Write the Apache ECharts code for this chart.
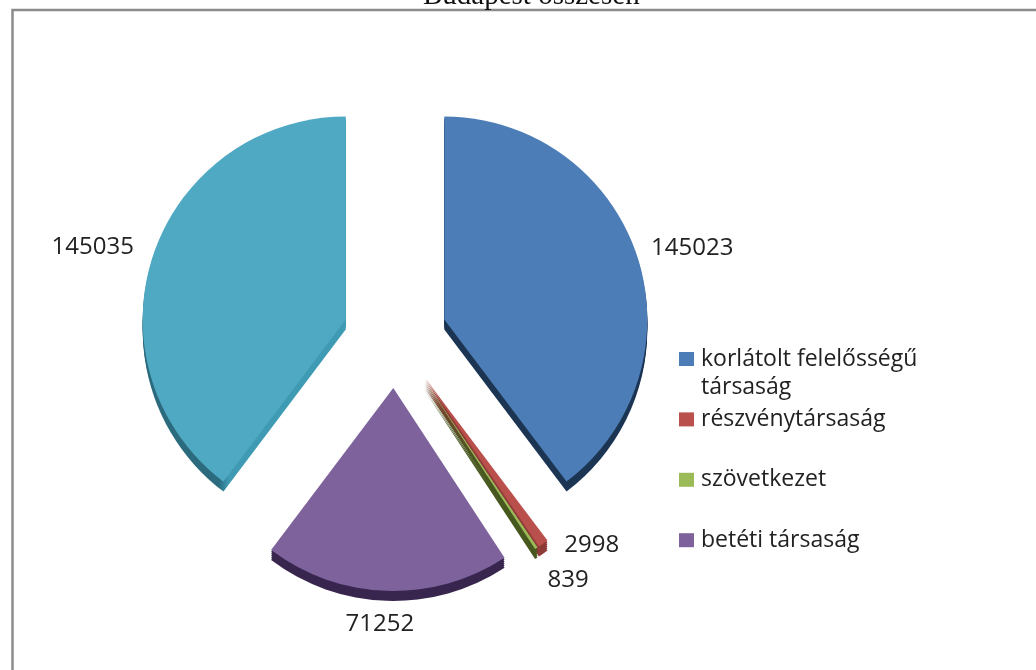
<!DOCTYPE html>
<html><head><meta charset="utf-8">
<style>html,body{margin:0;padding:0;background:#fff}#c{width:1036px;height:670px}</style>
<script src="https://cdn.jsdelivr.net/npm/echarts@6/dist/echarts.min.js"></script>
</head><body><div id="c"></div>
<script>
const titleText = 'Budapest összesen';
const categories = ['korlátolt felelősségű társaság','részvénytársaság','szövetkezet','betéti társaság','közkereseti társaság'];
const values = [145023,2998,839,71252,145035];
const topColors = ['#4c7db6','#b9504b','#9bbb59','#7e629b','#50a9c3'];
const sideColors = ['#1c3553','#8f3b38','#47581f','#38264f',null];
const labelShift = [[-35,-2],[-44,-11],[-32,-3],[63,18],[30,-3]];
const legendNames = categories.slice(0,4);
const depthLayers = [10,8,6,4,2];

const chart = echarts.init(document.getElementById('c'),null,{renderer:'canvas'});
const cx=395, cy=336, R=203, off=52;
const cyanSide={type:'linear',x:268,y:0,x2:278,y2:0,global:true,colorStops:[{offset:0,color:'#2b6b7d'},{offset:1,color:'#3f9bb4'}]};
function pie(shift,colors,top){
  return {
    type:'pie',silent:true,animation:false,clockwise:true,startAngle:90,
    center:[cx,cy+shift],radius:[0,R],selectedMode:'multiple',selectedOffset:off,
    emphasis:{disabled:true},z:top?5:2,
    label:top?{show:true,position:'outside',formatter:p=>String(p.value),fontFamily:'Open Sans',fontSize:24,color:'#222'}:{show:false},
    labelLine:{show:false},
    labelLayout:top?(p=>({dx:labelShift[p.dataIndex][0],dy:labelShift[p.dataIndex][1]})):undefined,
    data:categories.map((n,i)=>({name:n,value:values[i],selected:true,
      itemStyle:{color:colors[i]||cyanSide,borderWidth:0},
      select:{itemStyle:{color:colors[i]||cyanSide,borderWidth:0}}}))
  };
}
chart.setOption({
  animation:false,backgroundColor:'#fff',
  title:{text:titleText,left:418,top:-23,textStyle:{fontFamily:'Liberation Serif',fontWeight:'normal',fontSize:29,color:'#111'}},
  color:topColors,
  legend:{data:legendNames,orient:'vertical',left:674,top:339,itemWidth:15,itemHeight:14,itemGap:30.4,selectedMode:false,
    icon:'rect',formatter:n=>n.replace(' társaság','')==='korlátolt felelősségű'?'korlátolt felelősségű':n,
    textStyle:{fontFamily:'Open Sans',fontSize:23,color:'#222',lineHeight:30,padding:[0,0,0,2]}},
  graphic:[
    {type:'polyline',z:1,shape:{points:[[12.5,670],[12.5,10],[1036,10]]},style:{stroke:'#8c8c8c',lineWidth:2.5,fill:null}},
    {type:'text',x:701,y:376,style:{text:'társaság',fontFamily:'Open Sans',fontSize:23,fill:'#222'}}
  ],
  series:[pie(0,topColors,true)].concat(depthLayers.map(s=>pie(s,sideColors,false)))
});
</script></body></html>
